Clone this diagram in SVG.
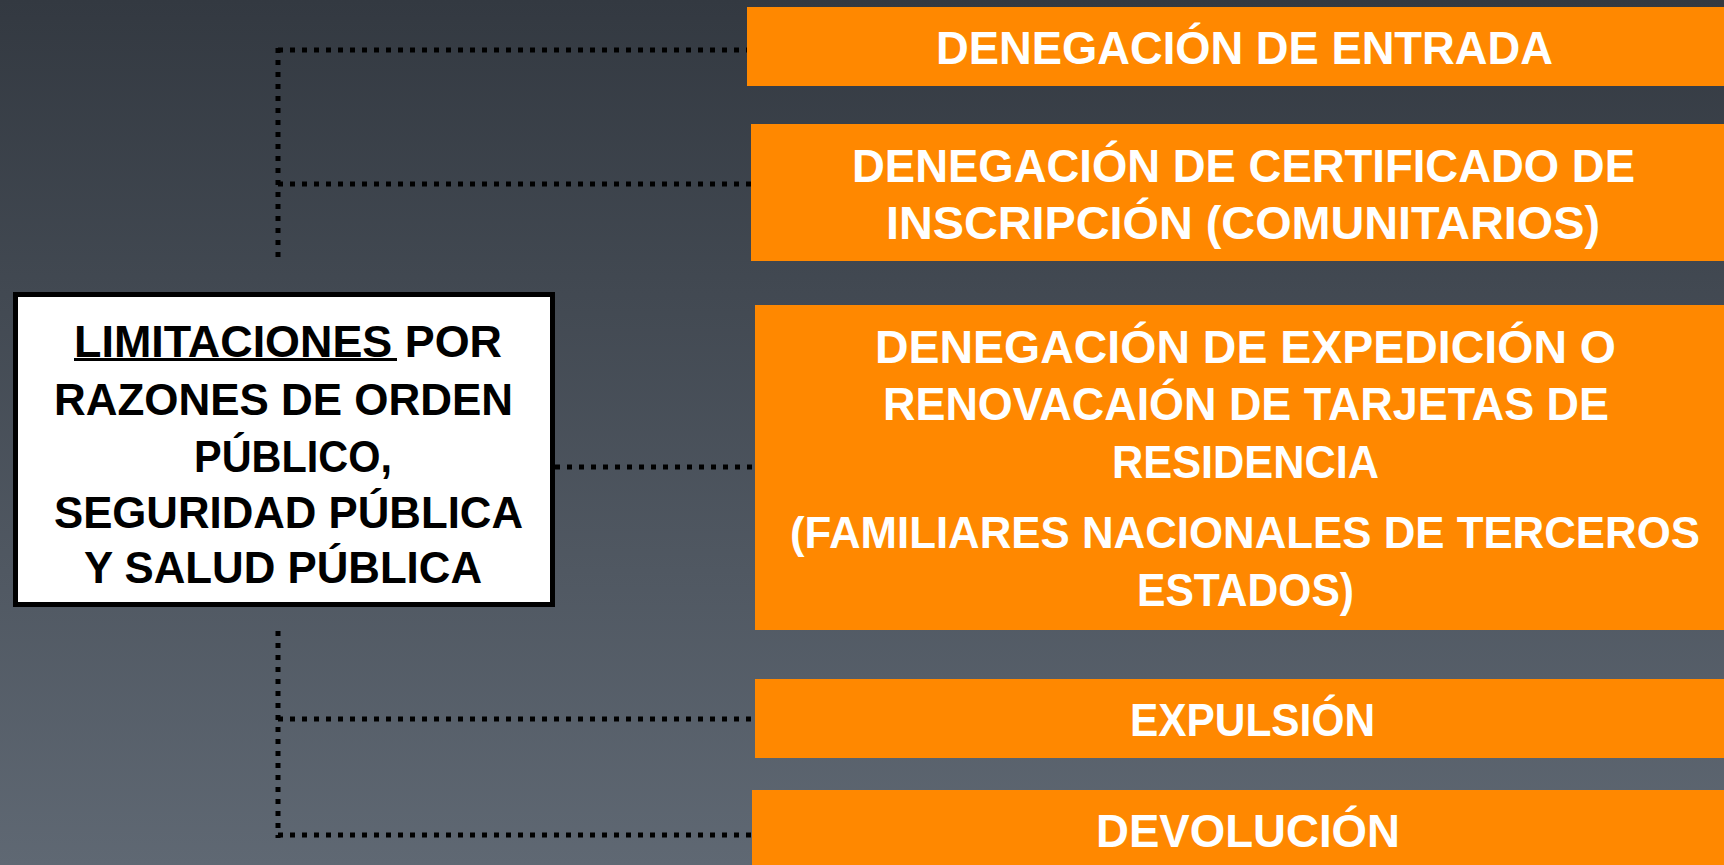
<svg xmlns="http://www.w3.org/2000/svg" width="1724" height="865" viewBox="0 0 1724 865">
<defs>
<linearGradient id="bg" x1="0" y1="0" x2="0" y2="1">
<stop offset="0" stop-color="#333941"/>
<stop offset="1" stop-color="#5f6873"/>
</linearGradient>
</defs>
<style>
.box{fill:#ff8800}
.main{fill:#ffffff;stroke:#000000;stroke-width:5}
.t{font-family:"Liberation Sans",Arial,sans-serif;font-weight:bold;font-size:46px;fill:#ffffff}
.tm{font-family:"Liberation Sans",Arial,sans-serif;font-weight:bold;font-size:44px;fill:#000000}
.c{fill:none;stroke:#000000;stroke-width:5;stroke-dasharray:5 7}
</style>
<rect x="0" y="0" width="1724" height="865" fill="url(#bg)"/>
<g id="connectors">
<path class="c" d="M278 48 V263"/>
<path class="c" d="M278 50 H747"/>
<path class="c" d="M278 184 H751"/>
<path class="c" d="M555 467 H756"/>
<path class="c" d="M278 631 V838"/>
<path class="c" d="M278 719 H755"/>
<path class="c" d="M278 835 H752"/>
</g>
<g id="main-node">
<rect class="main" x="15.5" y="294.5" width="537" height="310"/>
<text class="tm" x="74" y="357" textLength="428" lengthAdjust="spacingAndGlyphs">LIMITACIONES POR</text>
<rect x="74" y="358" width="323" height="3" fill="#000000"/>
<text class="tm" x="54" y="415" textLength="459" lengthAdjust="spacingAndGlyphs">RAZONES DE ORDEN</text>
<text class="tm" x="194" y="472" textLength="198" lengthAdjust="spacingAndGlyphs">PÚBLICO,</text>
<text class="tm" x="54" y="528" textLength="469" lengthAdjust="spacingAndGlyphs">SEGURIDAD PÚBLICA</text>
<text class="tm" x="84" y="583" textLength="398" lengthAdjust="spacingAndGlyphs">Y SALUD PÚBLICA</text>
</g>
<g id="node-entrada">
<rect class="box" x="747" y="7" width="977" height="79"/>
<text class="t" x="936" y="64" textLength="617" lengthAdjust="spacingAndGlyphs">DENEGACIÓN DE ENTRADA</text>
</g>
<g id="node-certificado">
<rect class="box" x="751" y="124" width="973" height="137"/>
<text class="t" x="852" y="182" textLength="783" lengthAdjust="spacingAndGlyphs">DENEGACIÓN DE CERTIFICADO DE</text>
<text class="t" x="886" y="239" textLength="714" lengthAdjust="spacingAndGlyphs">INSCRIPCIÓN (COMUNITARIOS)</text>
</g>
<g id="node-tarjetas">
<rect class="box" x="755" y="305" width="969" height="325"/>
<text class="t" x="875" y="363" textLength="741" lengthAdjust="spacingAndGlyphs">DENEGACIÓN DE EXPEDICIÓN O</text>
<text class="t" x="883" y="420" textLength="726" lengthAdjust="spacingAndGlyphs">RENOVACAIÓN DE TARJETAS DE</text>
<text class="t" x="1112" y="478" textLength="267" lengthAdjust="spacingAndGlyphs">RESIDENCIA</text>
<text class="t" x="790" y="548" style="font-size:44px" textLength="910" lengthAdjust="spacingAndGlyphs">(FAMILIARES NACIONALES DE TERCEROS</text>
<text class="t" x="1137" y="606" textLength="217" lengthAdjust="spacingAndGlyphs">ESTADOS)</text>
</g>
<g id="node-expulsion">
<rect class="box" x="755" y="679" width="969" height="79"/>
<text class="t" x="1130" y="736" textLength="245" lengthAdjust="spacingAndGlyphs">EXPULSIÓN</text>
</g>
<g id="node-devolucion">
<rect class="box" x="752" y="790" width="972" height="75"/>
<text class="t" x="1096" y="847" textLength="304" lengthAdjust="spacingAndGlyphs">DEVOLUCIÓN</text>
</g>
</svg>
